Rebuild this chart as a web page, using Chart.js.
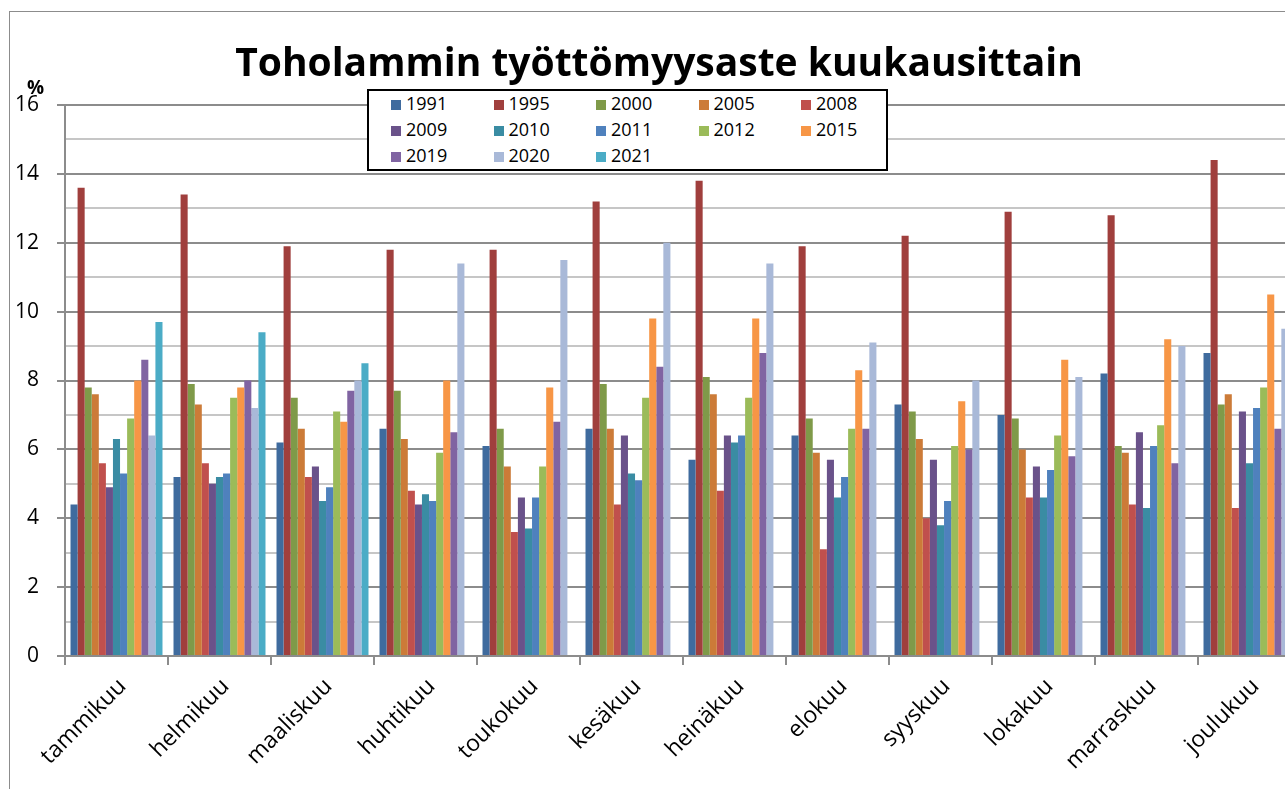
<!DOCTYPE html>
<html>
<head>
<meta charset="utf-8">
<script src="https://cdn.jsdelivr.net/npm/chart.js@4"></script>
<style>
    html, body { margin: 0; padding: 0; background: #fff; overflow: hidden; }
    body { width: 1285px; height: 789px; position: relative; font-family: "Open Sans", sans-serif; }
    #frame { position: absolute; left: 9px; top: 11px; width: 1400px; height: 900px; border: 1px solid #8c8c8c; }
    #wrap { position: absolute; left: 0; top: 0; width: 1310px; height: 789px; }
    #title { position: absolute; left: 0; width: 1318px; top: 35px; text-align: center; font-weight: bold; font-size: 39px; line-height: 52px; color: #000; }
    #unit { position: absolute; left: 27px; top: 74px; font-weight: bold; font-size: 19px; color: #000; }
    #legend { position: absolute; left: 367px; top: 89px; width: 517px; height: 78px; border: 2px solid #000; background: #fff; }
    #legend .item { position: absolute; font-size: 18px; line-height: 22px; color: #000; }
    #legend .box { display: inline-block; width: 10px; height: 10px; margin-right: 5px; vertical-align: 0px; }
</style>
</head>
<body>
<div id="frame"></div>
<div id="wrap"><canvas id="chart"></canvas></div>
<div id="title">Toholammin työttömyysaste kuukausittain</div>
<div id="unit">%</div>
<div id="legend"></div>
<script>
// Kuukaudet
const months = ['tammikuu', 'helmikuu', 'maaliskuu', 'huhtikuu', 'toukokuu', 'kesäkuu',
    'heinäkuu', 'elokuu', 'syyskuu', 'lokakuu', 'marraskuu', 'joulukuu'];

// Työttömyysaste (%) vuosittain
const v1991 = [4.4, 5.2, 6.2, 6.6, 6.1, 6.6, 5.7, 6.4, 7.3, 7.0, 8.2, 8.8];
const v1995 = [13.6, 13.4, 11.9, 11.8, 11.8, 13.2, 13.8, 11.9, 12.2, 12.9, 12.8, 14.4];
const v2000 = [7.8, 7.9, 7.5, 7.7, 6.6, 7.9, 8.1, 6.9, 7.1, 6.9, 6.1, 7.3];
const v2005 = [7.6, 7.3, 6.6, 6.3, 5.5, 6.6, 7.6, 5.9, 6.3, 6.0, 5.9, 7.6];
const v2008 = [5.6, 5.6, 5.2, 4.8, 3.6, 4.4, 4.8, 3.1, 4.0, 4.6, 4.4, 4.3];
const v2009 = [4.9, 5.0, 5.5, 4.4, 4.6, 6.4, 6.4, 5.7, 5.7, 5.5, 6.5, 7.1];
const v2010 = [6.3, 5.2, 4.5, 4.7, 3.7, 5.3, 6.2, 4.6, 3.8, 4.6, 4.3, 5.6];
const v2011 = [5.3, 5.3, 4.9, 4.5, 4.6, 5.1, 6.4, 5.2, 4.5, 5.4, 6.1, 7.2];
const v2012 = [6.9, 7.5, 7.1, 5.9, 5.5, 7.5, 7.5, 6.6, 6.1, 6.4, 6.7, 7.8];
const v2015 = [8.0, 7.8, 6.8, 8.0, 7.8, 9.8, 9.8, 8.3, 7.4, 8.6, 9.2, 10.5];
const v2019 = [8.6, 8.0, 7.7, 6.5, 6.8, 8.4, 8.8, 6.6, 6.0, 5.8, 5.6, 6.6];
const v2020 = [6.4, 7.2, 8.0, 11.4, 11.5, 12.0, 11.4, 9.1, 8.0, 8.1, 9.0, 9.5];
const v2021 = [9.7, 9.4, 8.5, null, null, null, null, null, null, null, null, null];

const years = ['1991', '1995', '2000', '2005', '2008', '2009', '2010', '2011', '2012', '2015', '2019', '2020', '2021'];
const values = [v1991, v1995, v2000, v2005, v2008, v2009, v2010, v2011, v2012, v2015, v2019, v2020, v2021];

// Värit (Excel-paletti)
const colors = ['#3f6b9e', '#a03f3d', '#7f9a49', '#cc7b38', '#c0504d', '#6a528a', '#3a8ca3',
    '#4f81bd', '#9bbb59', '#f79646', '#8064a2', '#a9b9d8', '#4bacc6'];

const yTicks = [0, 2, 4, 6, 8, 10, 12, 14, 16];

// Selite
function buildLegend() {
    const legend = document.getElementById('legend');
    years.forEach((year, i) => {
        const item = document.createElement('div');
        item.className = 'item';
        item.style.left = (22 + (i % 5) * 102.5) + 'px';
        item.style.top = (1 + Math.floor(i / 5) * 26) + 'px';
        item.innerHTML = `<span class="box" style="background:${colors[i]}"></span>${year}`;
        legend.appendChild(item);
    });
}

buildLegend();

const ctx = document.getElementById('chart').getContext('2d');

new Chart(ctx, {
    type: 'bar',
    data: {
        labels: months,
        datasets: years.map((year, i) => ({
            label: year,
            data: values[i],
            backgroundColor: colors[i],
            borderWidth: 0,
            categoryPercentage: 0.893,
            barPercentage: 1.0
        }))
    },
    options: {
        responsive: true,
        maintainAspectRatio: false,
        animation: false,
        layout: {
            padding: { top: 105, right: 9, left: 0, bottom: 0 }
        },
        plugins: {
            legend: { display: false },
            title: { display: false },
            tooltip: { enabled: false }
        },
        scales: {
            x: {
                grid: {
                    display: true,
                    drawOnChartArea: false,
                    offset: true,
                    color: '#8c8c8c',
                    lineWidth: 2,
                    tickLength: 9
                },
                border: { color: '#8c8c8c', width: 2 },
                ticks: {
                    color: '#000',
                    font: { family: 'Open Sans', size: 23 },
                    minRotation: 45,
                    maxRotation: 45,
                    padding: 8,
                    labelOffset: 6
                },
                afterFit: scale => { scale.height = 133; }
            },
            y: {
                min: 0,
                max: 16,
                grid: {
                    color: c => (c.tick && c.tick.value % 2 === 0) ? '#8c8c8c' : '#c6c6c6',
                    tickColor: c => (c.tick && c.tick.value % 2 === 0) ? '#8c8c8c' : 'rgba(0,0,0,0)',
                    lineWidth: 2,
                    tickLength: 8
                },
                border: { color: '#8c8c8c', width: 2 },
                ticks: {
                    stepSize: 1,
                    color: '#000',
                    font: { family: 'Open Sans', size: 21 },
                    padding: 18,
                    callback: v => yTicks.includes(v) ? v : ''
                },
                afterFit: scale => { scale.width = 65; }
            }
        }
    }
});
</script>
</body>
</html>
